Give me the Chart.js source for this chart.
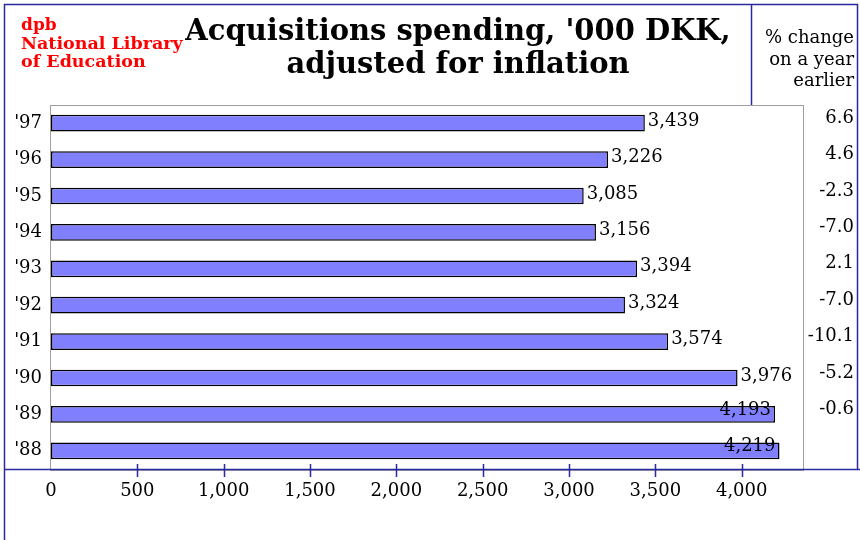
<!DOCTYPE html>
<html lang="en">
<head>
  <meta charset="UTF-8" />
  <title>Acquisitions spending</title>
  <script src="https://cdn.jsdelivr.net/npm/chart.js"></script>
  <style>
    html, body { margin: 0; padding: 0; background: #fff; }
    .wrap { width: 860px; height: 540px; position: relative; }
  </style>
</head>
<body>
  <div class="wrap"><canvas id="acq" width="860" height="540"></canvas></div>

  <script>
    const years = ["'97", "'96", "'95", "'94", "'93", "'92", "'91", "'90", "'89", "'88"];
    const spending = [3439, 3226, 3085, 3156, 3394, 3324, 3574, 3976, 4193, 4219];
    const pctChange = [6.6, 4.6, -2.3, -7.0, 2.1, -7.0, -10.1, -5.2, -0.6, null];
    const xTicks = [0, 500, 1000, 1500, 2000, 2500, 3000, 3500, 4000];

    const SERIF = '"DejaVu Serif", serif';
    const NAVY = '#2a2aa0';

    // frame, titles, value labels and the % change column
    const decor = {
      id: 'decor',
      beforeDraw(chart) {
        const c = chart.ctx;
        c.save();
        c.fillStyle = '#fff';
        c.fillRect(0, 0, chart.width, chart.height);
        c.restore();
      },
      afterDraw(chart) {
        const c = chart.ctx;
        const area = chart.chartArea;
        const xs = chart.scales.x, ys = chart.scales.y;
        c.save();

        // plot box
        c.strokeStyle = '#a0a0a0';
        c.lineWidth = 1;
        c.strokeRect(area.left - 0.5, area.top + 0.5, area.right - area.left + 1, area.bottom - area.top + 1);

        // outer frame
        c.strokeStyle = NAVY;
        c.lineWidth = 1.5;
        c.beginPath();
        c.moveTo(4.5, 540); c.lineTo(4.5, 4.5); c.lineTo(857.5, 4.5); c.lineTo(857.5, area.bottom);
        c.moveTo(751.5, 4.5); c.lineTo(751.5, area.top);
        c.moveTo(4.5, area.bottom + 0.5); c.lineTo(860, area.bottom + 0.5);
        c.stroke();

        // axis ticks crossing the base line
        c.beginPath();
        xTicks.slice(1).forEach(v => {
          const px = Math.round(xs.getPixelForValue(v)) + 0.5;
          c.moveTo(px, area.bottom - 5); c.lineTo(px, area.bottom + 8);
        });
        c.stroke();

        // logo
        c.fillStyle = '#ff0000';
        c.textAlign = 'left';
        c.textBaseline = 'alphabetic';
        c.font = 'bold 17px ' + SERIF;
        c.fillText('dpb', 21, 30);
        c.font = 'bold 17.5px ' + SERIF;
        c.fillText('National Library', 21, 49);
        c.fillText('of Education', 21, 67);

        // title
        c.fillStyle = '#000';
        c.textAlign = 'center';
        c.font = 'bold 29px ' + SERIF;
        c.fillText("Acquisitions spending, '000 DKK,", 458, 40);
        c.fillText('adjusted for inflation', 458, 73);

        // right column header
        c.textAlign = 'right';
        c.font = '18px ' + SERIF;
        c.fillText('% change', 854, 43);
        c.fillText('on a year', 854, 65);
        c.fillText('earlier', 854, 86);

        // value labels
        c.font = '18px ' + SERIF;
        c.textBaseline = 'middle';
        const meta = chart.getDatasetMeta(0);
        meta.data.forEach((bar, i) => {
          const txt = spending[i].toLocaleString('en-US');
          const w = c.measureText(txt).width;
          if (bar.x + 4 + w > area.right) {
            c.textAlign = 'right';
            c.fillText(txt, bar.x - 4, bar.y - 4);
          } else {
            c.textAlign = 'left';
            c.fillText(txt, bar.x + 3, bar.y - 2);
          }
        });

        // % change column
        c.textAlign = 'right';
        pctChange.forEach((p, i) => {
          if (p === null) return;
          c.fillText(p.toFixed(1), 854, ys.getPixelForValue(i) - 5);
        });

        c.restore();
      }
    };

    new Chart(document.getElementById('acq'), {
      type: 'bar',
      data: {
        labels: years,
        datasets: [{
          data: spending,
          backgroundColor: '#8080ff',
          borderColor: '#000',
          borderWidth: 1.5,
          borderSkipped: false,
          categoryPercentage: 1,
          barPercentage: 0.46
        }]
      },
      options: {
        indexAxis: 'y',
        responsive: false,
        animation: false,
        locale: 'en-US',
        layout: { padding: { left: 8, right: 57, top: 105, bottom: 0 } },
        plugins: { legend: { display: false }, tooltip: { enabled: false } },
        scales: {
          x: {
            min: 0,
            max: 4355,
            grid: { display: false, drawTicks: false },
            border: { display: false },
            afterBuildTicks(scale) { scale.ticks = xTicks.map(v => ({ value: v })); },
            ticks: {
              padding: 12,
              color: '#000',
              font: { family: SERIF, size: 18 }
            },
            afterFit(scale) { scale.height = 71; }
          },
          y: {
            grid: { display: false, drawTicks: false },
            border: { display: false },
            ticks: {
              padding: 9,
              color: '#000',
              font: { family: SERIF, size: 18 }
            },
            afterFit(scale) { scale.width = 43; }
          }
        }
      },
      plugins: [decor]
    });
  </script>
</body>
</html>
